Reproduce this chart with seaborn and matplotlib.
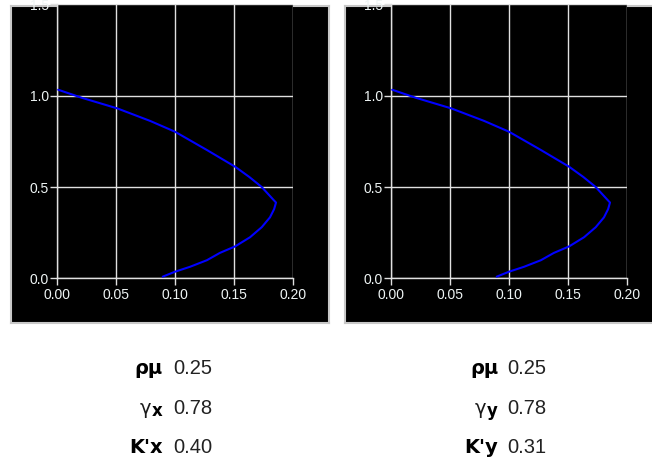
import matplotlib
matplotlib.use("Agg")
import matplotlib.pyplot as plt
import seaborn as sns
import pandas as pd

# ---- data ----
curve_x = [0.001, 0.021, 0.051, 0.079, 0.100, 0.127, 0.151, 0.163, 0.1735, 0.183,
           0.1856, 0.184, 0.1805, 0.1735, 0.1636, 0.151, 0.138, 0.127, 0.1127,
           0.100, 0.0896]
curve_y = [1.033, 0.989, 0.931, 0.862, 0.803, 0.703, 0.611, 0.555, 0.50, 0.433,
           0.415, 0.379, 0.334, 0.28, 0.225, 0.175, 0.139, 0.099, 0.063,
           0.036, 0.009]
x_ticks = [0.00, 0.05, 0.10, 0.15, 0.20]
x_ticklabels = ["0.00", "0.05", "0.10", "0.15", "0.20"]
y_ticks = [0.0, 0.5, 1.0, 1.5]
y_ticklabels = ["0.0", "0.5", "1.0", "1.5"]
left_labels = ["ρμ", "γx", "K'x"]
left_values = ["0.25", "0.78", "0.40"]
right_labels = ["ρμ", "γy", "K'y"]
right_values = ["0.25", "0.78", "0.31"]

W, H = 652, 461
sns.set_style("white")
plt.rcParams["font.family"] = ["Liberation Sans", "DejaVu Sans"]
fig = plt.figure(figsize=(W / 100, H / 100), dpi=100)
fig.patch.set_facecolor("white")


def fx(px):
    return px / W


def fy(py):
    return 1 - py / H


# black panels with gray border (behind the axes)
for (x0, x1) in [(11, 329), (345, 660)]:
    bg = fig.add_axes([fx(x0), fy(323), fx(x1 - x0), (323 - 6) / H], zorder=-5)
    bg.set_facecolor("black")
    bg.set_xticks([])
    bg.set_yticks([])
    for s in bg.spines.values():
        s.set_color("#c8c8c8")
        s.set_linewidth(1.5)

df = pd.DataFrame({"x": curve_x, "y": curve_y})

for (ax_l, ax_r) in [(57, 293), (391, 627)]:
    ax = fig.add_axes([fx(ax_l), fy(278.3), fx(ax_r - ax_l), (278.3 - 4.5) / H], zorder=1)
    ax.set_facecolor("black")
    sns.lineplot(data=df, x="x", y="y", sort=False, estimator=None,
                 color="#0000ff", linewidth=1.5, ax=ax, zorder=3)
    ax.set_xlim(0, 0.20)
    ax.set_ylim(0, 1.5)
    ax.set_xticks(x_ticks)
    ax.set_xticklabels(x_ticklabels)
    ax.set_yticks(y_ticks)
    ax.set_yticklabels(y_ticklabels)
    ax.set_xlabel("")
    ax.set_ylabel("")
    ax.grid(True, color="#e0e0e0", linewidth=1.0)
    for s in ["top", "right"]:
        ax.spines[s].set_visible(False)
    for s in ["left", "bottom"]:
        ax.spines[s].set_color("#e0e0e0")
        ax.spines[s].set_linewidth(1.0)
    ax.tick_params(axis="both", colors="#e0e0e0", labelcolor="#eef4f4",
                   labelsize=10, length=5, width=1.0, pad=1, direction="out")
    ax.tick_params(axis="x", length=5, pad=2)
    ax.tick_params(left=True, bottom=True)

rows_y = [368, 408, 447]


def put_label(xr, y, lab):
    if lab.startswith("γ"):
        fig.text(fx(xr - 12), fy(y), "γ", ha="right", va="center", fontsize=14,
                 color="#1a1a1a", family=["DejaVu Sans"])
        fig.text(fx(xr), fy(y + 3), lab[1], ha="right", va="center", fontsize=12,
                 fontweight="bold", color="black", family=["DejaVu Sans"])
    else:
        fig.text(fx(xr), fy(y), lab, ha="right", va="center", fontsize=14,
                 fontweight="bold", color="black", family=["DejaVu Sans"])


for labels, values, xr, xv in [(left_labels, left_values, 163, 173),
                               (right_labels, right_values, 498, 507)]:
    for lab, val, y in zip(labels, values, rows_y):
        put_label(xr, y, lab)
        fig.text(fx(xv), fy(y), val, ha="left", va="center", fontsize=14.5,
                 color="#222222")

fig.savefig("out.png", dpi=100, facecolor="white")
